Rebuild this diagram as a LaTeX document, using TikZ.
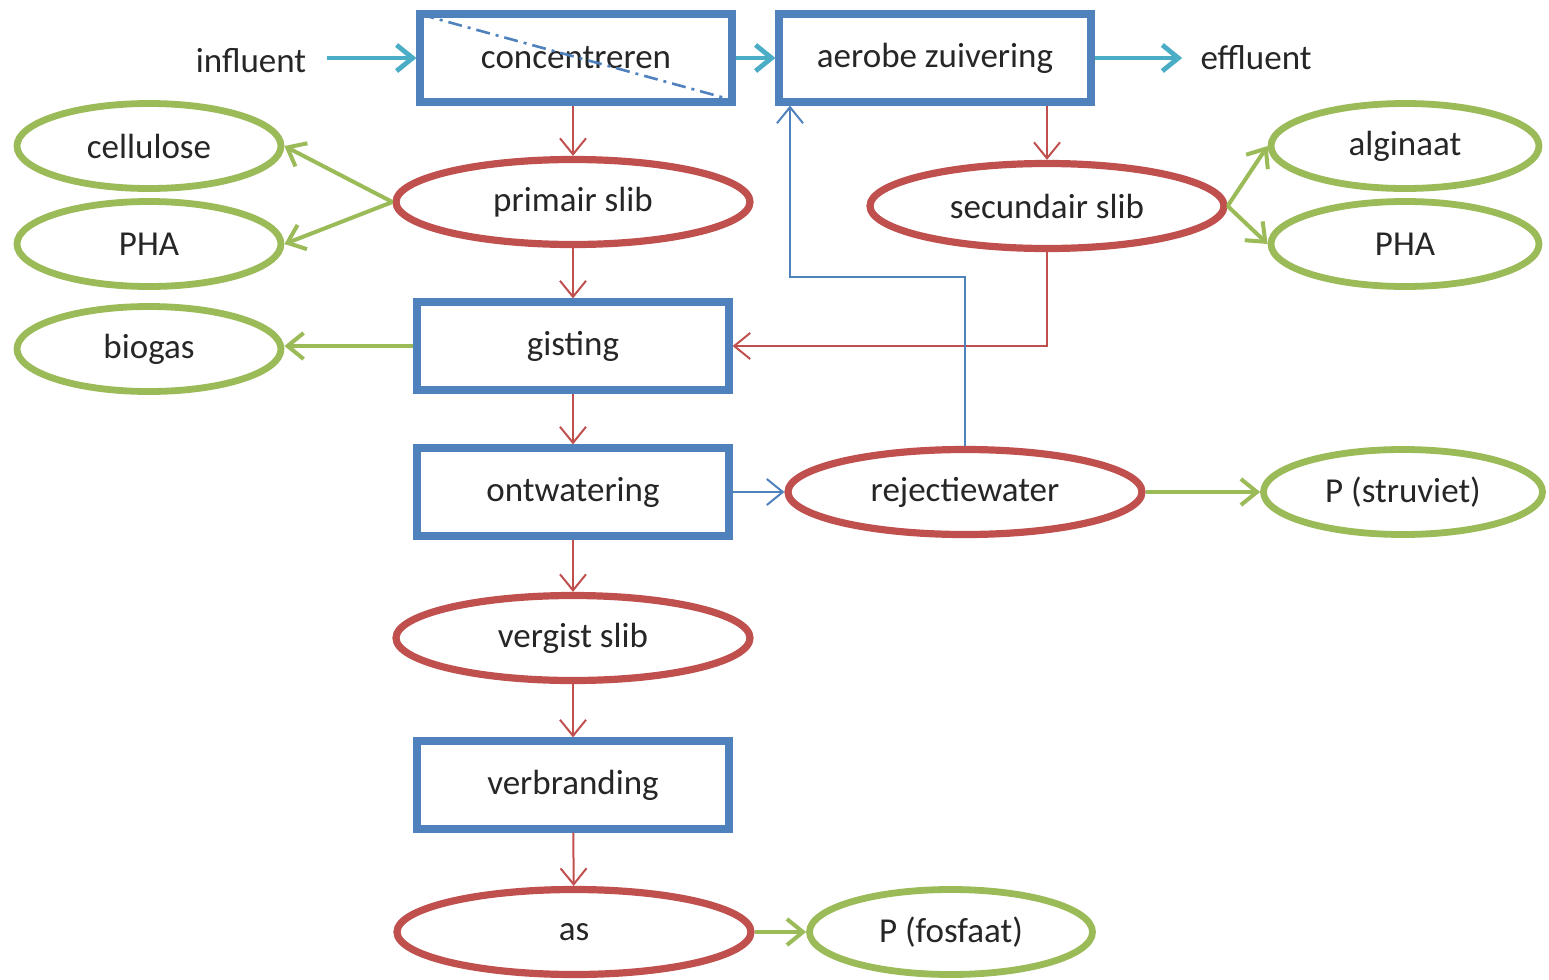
\documentclass[tikz,border=0pt]{standalone}
\usepackage{fontspec}
\setmainfont{Carlito}
\usepackage{xcolor}
\usetikzlibrary{arrows.meta, positioning, calc, shapes.geometric}

\definecolor{boxblue}{HTML}{4F81BD}
\definecolor{slibred}{HTML}{C0504D}
\definecolor{prodgreen}{HTML}{9BBB59}
\definecolor{watercyan}{HTML}{4BACC6}

\begin{document}
\begin{tikzpicture}[
      x=0.5pt, y=-0.5pt,
      font=\fontsize{17.5}{21}\selectfont, >={Straight Barb[length=8pt, width=13pt]},
      txt/.style={text=black!85, inner sep=0pt},
      proc/.style={txt, draw=boxblue, line width=3.6pt, minimum width=156pt, minimum height=44pt},
      slib/.style={txt, ellipse, draw=slibred, line width=3.6pt, minimum width=177pt, minimum height=42.5pt},
      prod/.style={txt, ellipse, draw=prodgreen, line width=3.4pt, minimum width=132pt, minimum height=42.5pt},
      sludge/.style={->, slibred, line width=1pt},
      water/.style={->, boxblue, line width=1pt},
      flow/.style={->, watercyan, line width=2.4pt},
      yield/.style={->, prodgreen, line width=2pt},
    ]
      \useasboundingbox (0,0) rectangle (1549,980);

      % main line
      \node[proc] (conc)   at (576,58)  {concentreren};
      \node[proc] (aerobe) at (935,58)  {aerobe zuivering};
      \node[slib] (primair) at (573,202) {primair slib};
      \node[proc] (gisting) at (573,346) {gisting};
      \node[proc] (ontw)    at (573,492) {ontwatering};
      \node[slib] (vergist) at (573,638) {vergist slib};
      \node[proc] (verbr)   at (573,785) {verbranding};
      \node[slib] (as)      at (574,932) {as};

      \node[slib] (secundair) at (1047,206) {secundair slib};
      \node[slib] (rejectie)  at (965,492)  {rejectiewater};

      % products
      \node[prod] (cellulose) at (149,146) {cellulose};
      \node[prod] (phal)      at (149,244) {PHA};
      \node[prod] (biogas)    at (149,349) {biogas};
      \node[prod, minimum width=134pt] (alginaat) at (1405,146) {alginaat};
      \node[prod, minimum width=134pt] (phar)     at (1405,244) {PHA};
      \node[prod, minimum width=139.5pt] (struviet) at (1403,492) {P (struviet)};
      \node[prod, minimum width=141.5pt] (fosfaat)  at (951,932)  {P (fosfaat)};

      \node[txt] (influent) at (251,61) {influent};
      \node[txt] (effluent) at (1256,58) {effluent};

      \draw[boxblue, line width=1.3pt, dash pattern=on 7pt off 3pt on 1.5pt off 3pt]
        ($(conc.north west)+(4,4)$) -- ($(conc.south east)+(-12,-8)$);

      \draw[flow, shorten <=10pt] (influent.east |- conc) -- (conc.west);
      \draw[flow] (conc) -- (aerobe);
      \draw[flow, shorten >=9pt] (aerobe) -- (effluent.west |- aerobe);

      \draw[sludge] (primair.north |- conc.south) -- (primair);
      \draw[sludge] (primair) -- (gisting);
      \draw[sludge] (gisting) -- (ontw);
      \draw[sludge] (ontw) -- (vergist);
      \draw[sludge] (vergist) -- (verbr);
      \draw[sludge] (verbr) -- (as);
      \draw[sludge] (aerobe.south -| secundair) -- (secundair.north);
      \draw[sludge] (secundair.south) |- (gisting.east);

      \coordinate (ret) at (790,277);
      \draw[water] (ontw) -- (rejectie);
      \draw[water] (rejectie.north) |- (ret) -- (ret |- aerobe.south);

      \draw[yield] (primair.west) -- (cellulose.east);
      \draw[yield] (primair.west) -- (phal.east);
      \draw[yield] (gisting.west) -- (biogas.east |- gisting);
      \draw[yield] (secundair.east) -- (alginaat.west);
      \draw[yield] (secundair.east) -- (phar.west);
      \draw[yield] (rejectie) -- (struviet);
      \draw[yield] (as) -- (fosfaat);
    \end{tikzpicture}
\end{document}
